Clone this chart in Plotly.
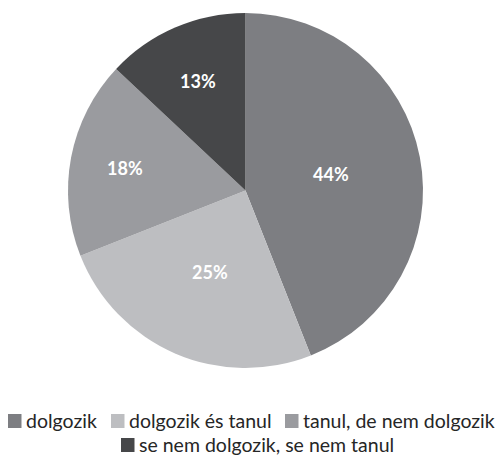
import math
import plotly.graph_objects as go

categories = ["dolgozik", "dolgozik és tanul", "tanul, de nem dolgozik", "se nem dolgozik, se nem tanul"]
values = [44, 25, 18, 13]
colors = ["#7D7E82", "#BDBEC1", "#9A9B9F", "#464749"]

W, H = 501, 455
CX, CY, R = 245.5, 190.5, 177.5


def px(x):
    return x / W


def py(y):
    return 1 - y / H


fig = go.Figure(go.Pie(
    labels=categories, values=values, sort=False, direction="clockwise", rotation=0,
    marker=dict(colors=colors, line=dict(width=0)),
    textinfo="none",
    domain=dict(x=[px(CX - R), px(CX + R)], y=[py(CY + R), py(CY - R)]),
    showlegend=False, hoverinfo="label+percent",
))

# data labels placed at each slice's mid angle
label_radius = [0.49, 0.50, 0.69, 0.67]
total = sum(values)
ann = []
cum = 0
for v, rf in zip(values, label_radius):
    mid = (cum + v / 2) / total * 2 * math.pi
    cum += v
    x = CX + rf * R * math.sin(mid)
    y = CY - rf * R * math.cos(mid)
    ann.append(dict(text=f"<b>{v}%</b>", x=px(x), y=py(y), xref="paper", yref="paper",
                    xanchor="center", yanchor="middle", showarrow=False,
                    font=dict(family="Lato", size=18, color="white")))

# legend: squares + text
leg_items = [(0, 8, 421), (1, 111, 421), (2, 285, 421), (3, 121, 445)]
shapes = []
for i, x0, yc in leg_items:
    shapes.append(dict(type="rect", xref="paper", yref="paper",
                       x0=px(x0), x1=px(x0 + 13.5), y0=py(yc + 7), y1=py(yc - 7),
                       fillcolor=colors[i], line=dict(width=0)))
    ann.append(dict(text=categories[i], x=px(x0 + 16.5), y=py(yc - 0.5), xref="paper", yref="paper",
                    xanchor="left", yanchor="middle", showarrow=False, borderpad=0,
                    font=dict(family="Lato", size=19.5, color="#262626")))

fig.update_layout(width=W, height=H, margin=dict(l=0, r=0, t=0, b=0),
                  paper_bgcolor="white", plot_bgcolor="white",
                  annotations=ann, shapes=shapes)
fig.write_html("out.html", config={"displayModeBar": False},
               post_script="document.body.style.margin='0';")
